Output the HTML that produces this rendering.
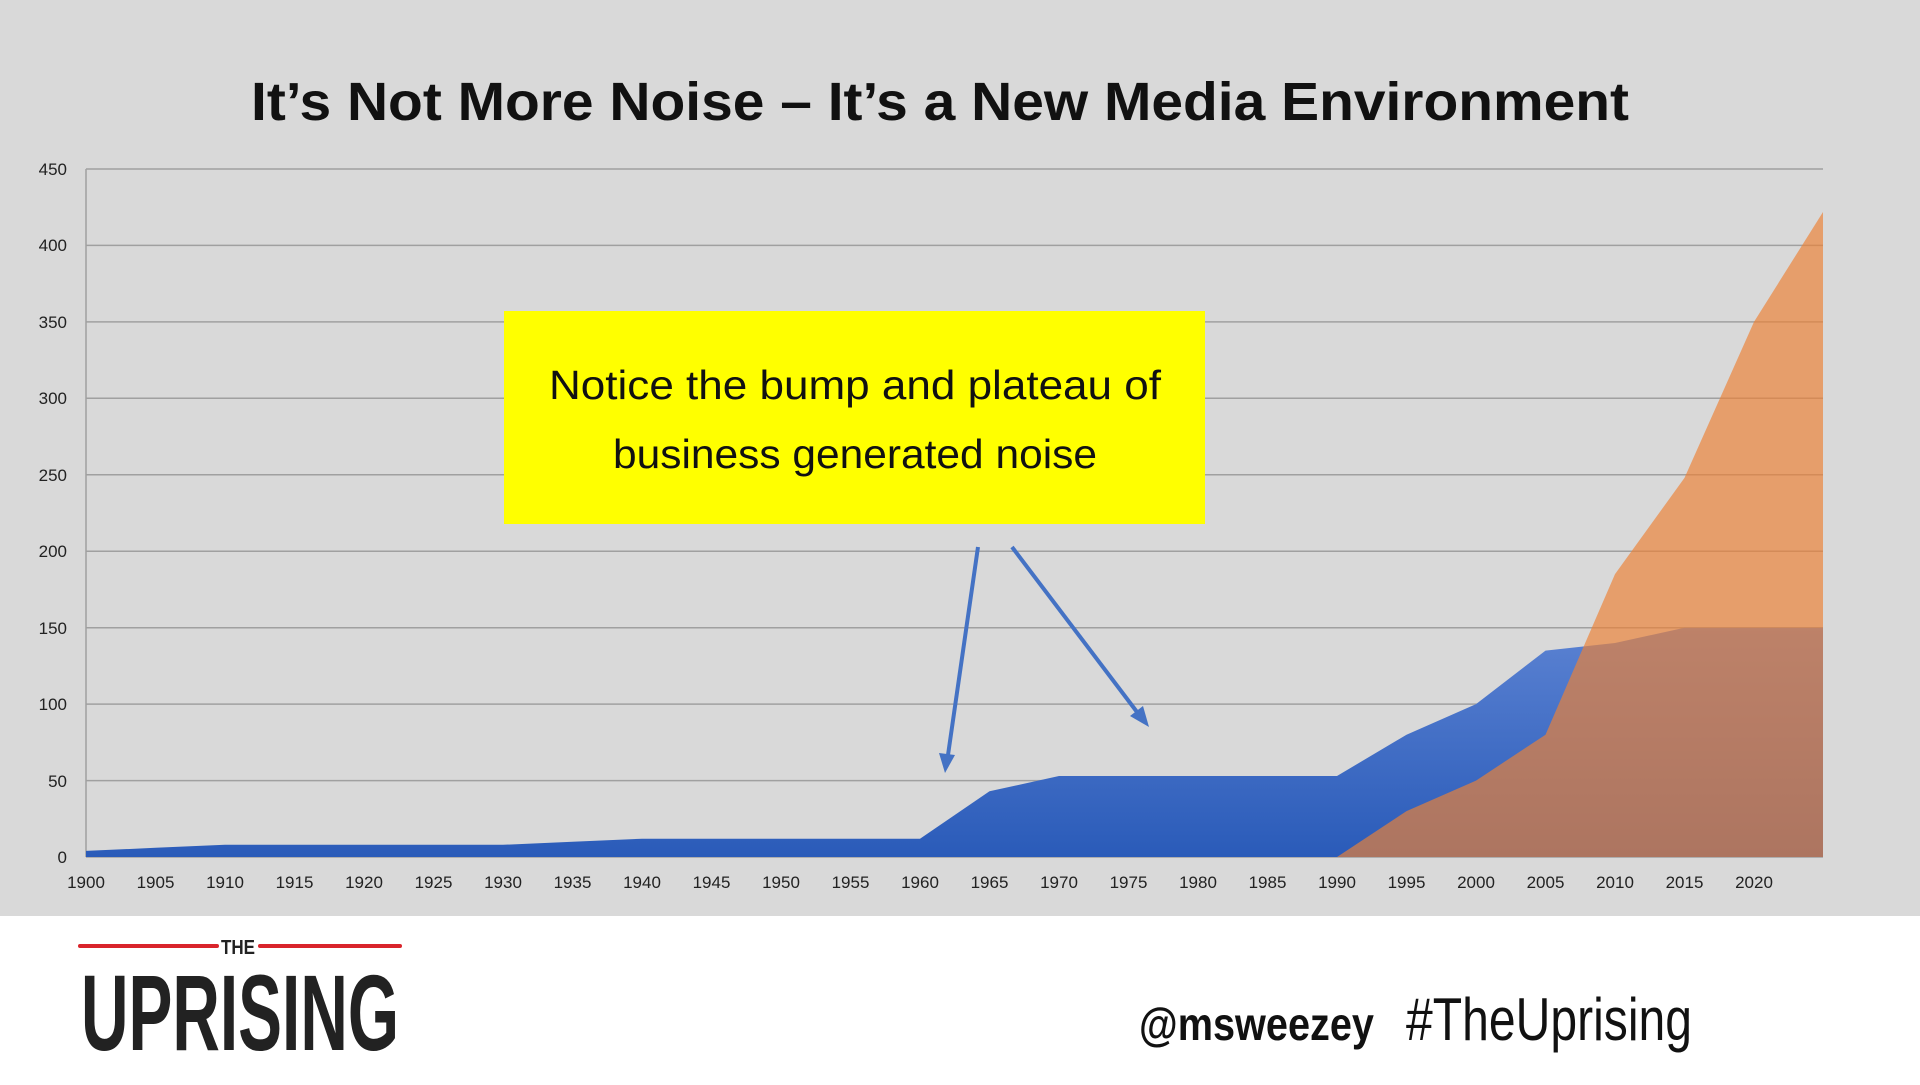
<!DOCTYPE html>
<html><head><meta charset="utf-8"><style>
body{margin:0;width:1920px;height:1080px;overflow:hidden;background:#fff;font-family:"Liberation Sans",sans-serif}
</style></head><body>
<svg width="1920" height="1080" xmlns="http://www.w3.org/2000/svg">
<defs>
<linearGradient id="bg" x1="0" y1="0" x2="0" y2="1"><stop offset="0" stop-color="#5b82d2"/><stop offset="1" stop-color="#2a5bb9"/></linearGradient>
</defs>
<rect x="0" y="0" width="1920" height="916" fill="#d9d9d9"/>
<text x="940" y="120" text-anchor="middle" font-size="54" font-weight="bold" fill="#111" textLength="1378" lengthAdjust="spacingAndGlyphs">It’s Not More Noise – It’s a New Media Environment</text>
<g stroke="#a0a0a0" stroke-width="1.5">
<line x1="86" y1="169" x2="1823" y2="169"/><line x1="86" y1="245.4" x2="1823" y2="245.4"/><line x1="86" y1="321.9" x2="1823" y2="321.9"/><line x1="86" y1="398.3" x2="1823" y2="398.3"/><line x1="86" y1="474.8" x2="1823" y2="474.8"/><line x1="86" y1="551.2" x2="1823" y2="551.2"/><line x1="86" y1="627.7" x2="1823" y2="627.7"/><line x1="86" y1="704.1" x2="1823" y2="704.1"/><line x1="86" y1="780.6" x2="1823" y2="780.6"/><line x1="86" y1="857" x2="1823" y2="857"/>
<line x1="86" y1="169" x2="86" y2="857"/>
</g>
<g font-size="17" fill="#222" text-anchor="end">
<text x="67" y="175">450</text><text x="67" y="251">400</text><text x="67" y="328">350</text><text x="67" y="404">300</text><text x="67" y="481">250</text><text x="67" y="557">200</text><text x="67" y="634">150</text><text x="67" y="710">100</text><text x="67" y="787">50</text><text x="67" y="863">0</text>
</g>
<polygon fill="url(#bg)" points="86,857 86,850.9 155.5,847.8 225,844.8 294.5,844.8 364,844.8 433.5,844.8 503,844.8 572.5,841.7 642,838.7 711.5,838.7 781,838.7 850.5,838.7 920,838.7 989.5,791.3 1059,776 1128.5,776 1198,776 1267.5,776 1337,776 1406.5,734.7 1476,704.1 1545.5,650.6 1615,643 1684.5,627.7 1754,627.7 1823,627.7 1823,857"/>
<polygon fill="rgba(236,130,55,0.68)" points="1337,857 1406.5,811.1 1476,780.6 1545.5,734.7 1615,574.1 1684.5,477.9 1754,321.9 1823,212 1823,857"/>
<g font-size="17" fill="#222" text-anchor="middle">
<text x="86" y="888">1900</text><text x="155.5" y="888">1905</text><text x="225" y="888">1910</text><text x="294.5" y="888">1915</text><text x="364" y="888">1920</text><text x="433.5" y="888">1925</text><text x="503" y="888">1930</text><text x="572.5" y="888">1935</text><text x="642" y="888">1940</text><text x="711.5" y="888">1945</text><text x="781" y="888">1950</text><text x="850.5" y="888">1955</text><text x="920" y="888">1960</text><text x="989.5" y="888">1965</text><text x="1059" y="888">1970</text><text x="1128.5" y="888">1975</text><text x="1198" y="888">1980</text><text x="1267.5" y="888">1985</text><text x="1337" y="888">1990</text><text x="1406.5" y="888">1995</text><text x="1476" y="888">2000</text><text x="1545.5" y="888">2005</text><text x="1615" y="888">2010</text><text x="1684.5" y="888">2015</text><text x="1754" y="888">2020</text>
</g>
<rect x="504" y="311" width="701" height="213" fill="#ffff00"/>
<text x="855" y="399" text-anchor="middle" font-size="41" fill="#111" textLength="612" lengthAdjust="spacingAndGlyphs">Notice the bump and plateau of</text>
<text x="855" y="468" text-anchor="middle" font-size="41" fill="#111" textLength="484" lengthAdjust="spacingAndGlyphs">business generated noise</text>
<g stroke="#4472c4" stroke-width="4" fill="#4472c4">
<line x1="978" y1="547" x2="948" y2="755"/>
<polygon points="945,773 939,753 955,755" stroke="none"/>
<line x1="1012" y1="547" x2="1137" y2="712"/>
<polygon points="1149,727 1130,716 1143,706" stroke="none"/>
</g>
<line x1="80" y1="946" x2="217" y2="946" stroke="#d9242b" stroke-width="4" stroke-linecap="round"/>
<line x1="260" y1="946" x2="400" y2="946" stroke="#d9242b" stroke-width="4" stroke-linecap="round"/>
<text x="238" y="954" text-anchor="middle" font-size="20" font-weight="bold" fill="#222" textLength="34" lengthAdjust="spacingAndGlyphs">THE</text>
<text x="240" y="1050" text-anchor="middle" font-size="108" font-weight="bold" fill="#222" textLength="318" lengthAdjust="spacingAndGlyphs">UPRISING</text>
<text x="1139" y="1040" font-size="46" font-weight="bold" fill="#111" textLength="235" lengthAdjust="spacingAndGlyphs">@msweezey</text>
<text x="1406" y="1040" font-size="60" fill="#111" font-family="Liberation Sans Narrow, Liberation Sans, sans-serif" textLength="286" lengthAdjust="spacingAndGlyphs">#TheUprising</text>
</svg>
</body></html>
